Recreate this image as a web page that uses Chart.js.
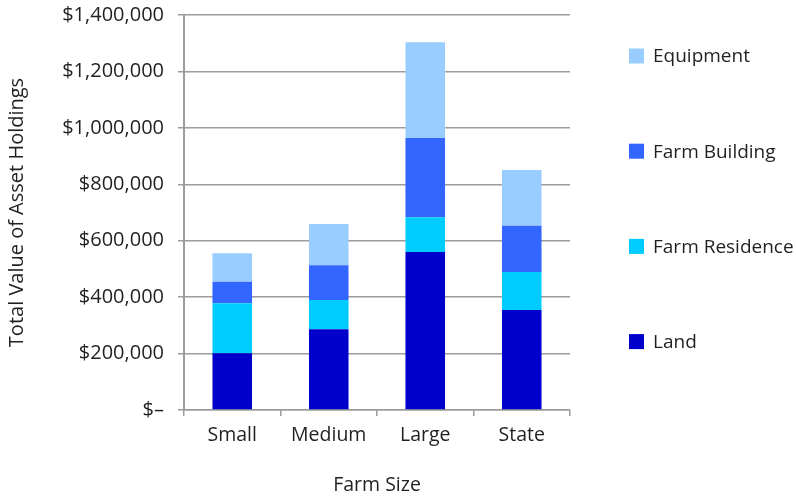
<!DOCTYPE html>
<html>
<head>
<meta charset="utf-8">
<script src="https://cdn.jsdelivr.net/npm/chart.js@4/dist/chart.umd.min.js"></script>
<style>
  html, body { margin: 0; padding: 0; background: #ffffff; }
  #wrap { width: 796px; height: 497px; }
</style>
</head>
<body>
<div id="wrap"><canvas id="chart" width="796" height="497"></canvas></div>
<script>
// Farm sizes along the x axis
const categories = ['Small', 'Medium', 'Large', 'State'];

// Asset values (dollars) for each farm size, stacked bottom to top
const land          = [201000, 286000, 560000, 354000];
const farmResidence = [177000, 104000, 123000, 135000];
const farmBuilding  = [77000, 123000, 281000, 164000];
const equipment     = [101000, 146000, 339000, 198000];

// Y axis tick values
const yTicks = [0, 200000, 400000, 600000, 800000, 1000000, 1200000, 1400000];

const FONT = '"Open Sans", "DejaVu Sans", sans-serif';
const TEXT = '#231f20';
const GRID = '#9c9c9c';

function money(v) {
  if (v === 0) return '$\u2013';
  return '$' + v.toLocaleString('en-US');
}

// Legend drawn as a vertical list to the right of the plot, top item last dataset
const sideLegend = {
  id: 'sideLegend',
  afterDraw(chart) {
    const { ctx, chartArea } = chart;
    const items = chart.data.datasets.map((d) => ({ label: d.label, color: d.backgroundColor })).reverse();
    const x0 = chartArea.right + 59;
    const yStart = chartArea.top + 41;
    const step = 95.2;
    ctx.save();
    ctx.font = '19px ' + FONT;
    ctx.textBaseline = 'middle';
    ctx.textAlign = 'left';
    items.forEach((it, i) => {
      const cy = yStart + i * step;
      ctx.fillStyle = it.color;
      ctx.fillRect(x0, cy - 7.5, 15, 15);
      ctx.fillStyle = TEXT;
      ctx.fillText(it.label, x0 + 24, cy + 1);
    });
    ctx.restore();
  }
};

new Chart(document.getElementById('chart'), {
  type: 'bar',
  data: {
    labels: categories,
    datasets: [
      { label: 'Land', data: land, backgroundColor: '#0000cc' },
      { label: 'Farm Residence', data: farmResidence, backgroundColor: '#00ccff' },
      { label: 'Farm Building', data: farmBuilding, backgroundColor: '#3366ff' },
      { label: 'Equipment', data: equipment, backgroundColor: '#99ccff' }
    ]
  },
  options: {
    responsive: false,
    animation: false,
    layout: { padding: { left: 5, right: 226, top: 15, bottom: 0 } },
    datasets: { bar: { barPercentage: 0.41, categoryPercentage: 1, borderWidth: 0 } },
    plugins: {
      legend: { display: false },
      tooltip: { enabled: false }
    },
    scales: {
      x: {
        stacked: true,
        grid: {
          offset: true,
          drawOnChartArea: false,
          drawTicks: true,
          tickLength: 6,
          color: GRID,
          lineWidth: 1.5
        },
        border: { display: true, color: GRID, width: 1.5 },
        ticks: { color: TEXT, font: { family: FONT, size: 19.5 }, padding: 8 },
        title: { display: true, text: 'Farm Size', color: TEXT, font: { family: FONT, size: 19.5 }, padding: 0 },
        afterFit(scale) { scale.height = 87; }
      },
      y: {
        stacked: true,
        min: 0,
        max: 1400000,
        afterBuildTicks(scale) { scale.ticks = yTicks.map((v) => ({ value: v })); },
        grid: { color: GRID, lineWidth: 1.5, tickLength: 6, drawTicks: true },
        border: { display: true, color: GRID, width: 2 },
        ticks: {
          color: TEXT,
          font: { family: FONT, size: 20 },
          padding: 14,
          callback: (v) => money(v)
        },
        title: { display: true, text: 'Total Value of Asset Holdings', color: TEXT, font: { family: FONT, size: 20 }, padding: 0 },
        afterFit(scale) {
          scale.width = 179;
          scale.paddingTop = 0;
          scale.paddingBottom = 0;
        }
      }
    }
  },
  plugins: [sideLegend]
});
</script>
</body>
</html>
